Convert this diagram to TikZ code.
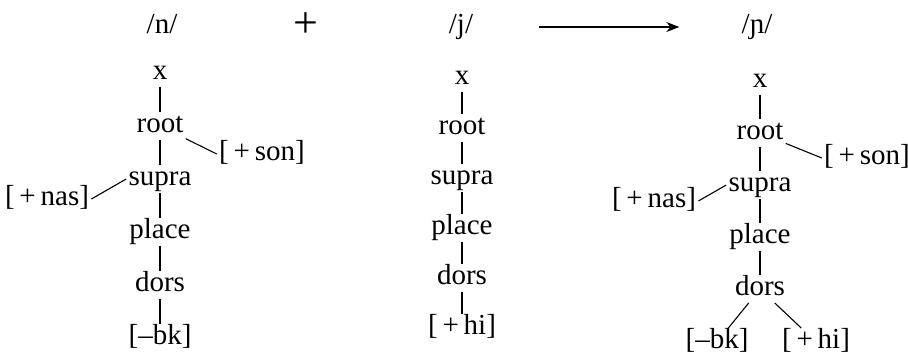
\documentclass[tikz,border=0pt]{standalone}
\usepackage{fontspec}
\setmainfont{Liberation Serif}
\usetikzlibrary{arrows.meta, positioning}

\begin{document}
\begin{tikzpicture}[
  x=0.5pt, y=-0.5pt, on grid,
  seg/.style={font=\fontsize{14.5}{16}\selectfont, inner sep=1pt, text height=9pt, text depth=2.5pt},
  lnk/.style={line width=0.55pt, black},
  arr/.style={-{Stealth[length=6.5pt, width=5pt]}, line width=0.6pt, black}
]
\useasboundingbox (0,0) rectangle (908,355);
% Headings
\node[seg](n) at (162,27){/n/};
\node[seg, font=\fontsize{22}{24}\selectfont](plus) at (306,31){+};
\node[seg](j) at (461,27){/j/};
\node[seg](ny) at (757,27){/ɲ/};
\draw[arr, shorten <=32pt, shorten >=30pt](j)--(ny);
% Tree 1
\node[seg](x1) at (160,73){x};
\node[seg, below=26.5pt of x1](root1){root};
\node[seg, below=26.5pt of root1](supra1){supra};
\node[seg, below=26.5pt of supra1](place1){place};
\node[seg, below=26.5pt of place1](dors1){dors};
\node[seg, below=26.5pt of dors1](bk1){[--bk]};
\node[seg, below right=14pt and 51pt of root1](son1){[\,+\,son]};
\node[seg, below left=10pt and 56.5pt of supra1](nas1){[\,+\,nas]};
\draw[lnk](x1)--(root1) (root1)--(supra1) (supra1)--(place1) (place1)--(dors1) (dors1)--(bk1);
\draw[lnk](root1)--(son1.west);
\draw[lnk](nas1.east)--(supra1.west);
% Tree 2
\node[seg](x2) at (462,78){x};
\node[seg, below=25pt of x2](root2){root};
\node[seg, below=25pt of root2](supra2){supra};
\node[seg, below=25pt of supra2](place2){place};
\node[seg, below=25pt of place2](dors2){dors};
\node[seg, below=25pt of dors2](hi2){[\,+\,hi]};
\draw[lnk](x2)--(root2) (root2)--(supra2) (supra2)--(place2) (place2)--(dors2) (dors2)--(hi2);
% Tree 3
\node[seg](x3) at (760,81){x};
\node[seg, below=26pt of x3](root3){root};
\node[seg, below=26pt of root3](supra3){supra};
\node[seg, below=26pt of supra3](place3){place};
\node[seg, below=26pt of place3](dors3){dors};
\node[seg, below left=26.5pt and 21.5pt of dors3](bk3){[--bk]};
\node[seg, below right=26.5pt and 28pt of dors3](hi3){[\,+\,hi]};
\node[seg, below right=12.5pt and 53.5pt of root3](son3){[\,+\,son]};
\node[seg, below left=8pt and 53pt of supra3](nas3){[\,+\,nas]};
\draw[lnk](x3)--(root3) (root3)--(supra3) (supra3)--(place3) (place3)--(dors3);
\draw[lnk](dors3)--(bk3) (dors3)--(hi3);
\draw[lnk](root3)--(son3.west);
\draw[lnk](nas3.east)--(supra3.west);
\end{tikzpicture}
\end{document}
